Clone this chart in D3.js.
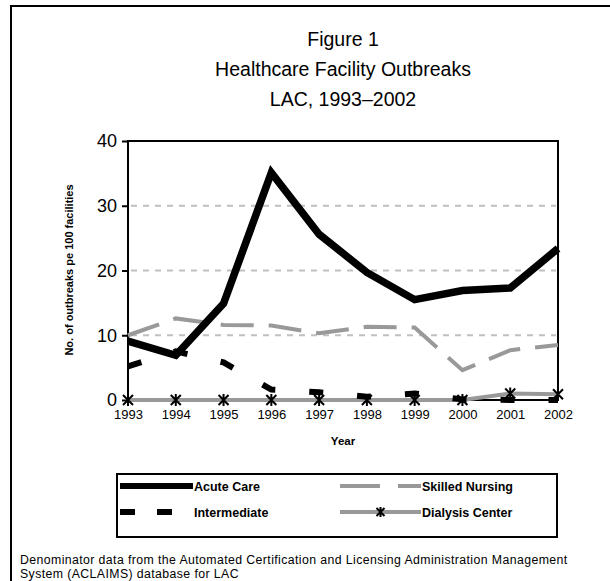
<!DOCTYPE html>
<html><head><meta charset="utf-8">
<script src="https://cdn.jsdelivr.net/npm/d3@7"></script>
<style>body{margin:0;background:#fff}svg{display:block;font-family:"Liberation Sans",Arial,sans-serif}</style>
</head><body>
<svg id="c" width="610" height="581"></svg>
<script>
const years = [1993,1994,1995,1996,1997,1998,1999,2000,2001,2002];
const acuteCare = [9.1,6.9,14.9,35.1,25.6,19.7,15.5,16.9,17.3,23.4];
const skilledNursing = [10.0,12.6,11.6,11.5,10.3,11.3,11.2,4.6,7.7,8.5];
const intermediate = [5.2,7.5,5.8,1.6,1.2,0.5,1.0,0.1,0,0];
const dialysis = [0,0,0,0,0,0,0,0,1.0,0.9];
const yTicks = [0,10,20,30,40];
const titleLines = ["Figure 1","Healthcare Facility Outbreaks","LAC, 1993\u20132002"];
const footnoteLines = ["Denominator data from the Automated Certification and Licensing Administration Management","System (ACLAIMS) database for LAC"];

const svg = d3.select("#c");
svg.append("rect").attr("x",11).attr("y",6).attr("width",640).attr("height",640)
  .attr("fill","none").attr("stroke","#000").attr("stroke-width",2);

titleLines.forEach((t,i)=>svg.append("text").attr("x",343).attr("y",46+i*30)
  .attr("text-anchor","middle").attr("font-size",19.5).text(t));

const x = d3.scalePoint().domain(years).range([128,558]);
const y = d3.scaleLinear().domain([0,40]).range([400,141]);

svg.append("g").selectAll("line").data(yTicks.filter(v=>v>0&&v<40)).join("line")
  .attr("x1",131).attr("x2",556).attr("y1",d=>y(d)).attr("y2",d=>y(d))
  .attr("stroke","#c0c0c0").attr("stroke-width",2).attr("stroke-dasharray","6,6");

svg.append("rect").attr("x",128).attr("y",141).attr("width",430).attr("height",259)
  .attr("fill","none").attr("stroke","#000").attr("stroke-width",2);

const ya = svg.append("g").attr("transform","translate(128,0)")
  .call(d3.axisLeft(y).tickValues(yTicks).tickSize(6).tickPadding(5));
ya.select(".domain").remove();
ya.selectAll("line").attr("stroke","#000").attr("stroke-width",2);
ya.selectAll("text").attr("font-size",18).attr("font-family","Liberation Sans, Arial").attr("fill","#000");

const xa = svg.append("g").attr("transform","translate(0,400)")
  .call(d3.axisBottom(x).tickSize(0).tickPadding(10).tickFormat(d3.format("d")));
xa.select(".domain").remove();
xa.selectAll("text").attr("font-size",13).attr("font-family","Liberation Sans, Arial").attr("fill","#000");

svg.append("text").attr("x",343).attr("y",445).attr("text-anchor","middle")
  .attr("font-size",11.5).attr("font-weight","bold").text("Year");
svg.append("text").attr("transform","translate(73,270) rotate(-90)").attr("text-anchor","middle")
  .attr("font-size",11).attr("font-weight","bold").text("No. of outbreaks pe 100 facilities");

const line = d3.line().x((d,i)=>x(years[i])).y(d=>y(d));

svg.append("path").datum(dialysis).attr("d",line).attr("fill","none")
  .attr("stroke","#999").attr("stroke-width",4);
svg.append("path").datum(skilledNursing).attr("d",line).attr("fill","none")
  .attr("stroke","#999").attr("stroke-width",4).attr("stroke-dasharray","33,15");
svg.append("path").datum(intermediate).attr("d",line).attr("fill","none")
  .attr("stroke","#000").attr("stroke-width",6).attr("stroke-dasharray","14,34");
svg.append("path").datum(acuteCare).attr("d",line).attr("fill","none")
  .attr("stroke","#000").attr("stroke-width",7.5).attr("stroke-linejoin","miter");

const star = (cx,cy,r)=>`M${cx-r},${cy-r}L${cx+r},${cy+r}M${cx-r},${cy+r}L${cx+r},${cy-r}M${cx},${cy-r-1}L${cx},${cy+r+1}`;
svg.append("g").selectAll("path").data(dialysis).join("path")
  .attr("d",(d,i)=>star(x(years[i]),y(d),5)).attr("stroke","#000").attr("stroke-width",2).attr("fill","none");

const lg = svg.append("g");
lg.append("rect").attr("x",117).attr("y",474).attr("width",440).attr("height",63)
  .attr("fill","none").attr("stroke","#000").attr("stroke-width",2);
const legendItems = [
  {name:"Acute Care",lx:120,tx:193,ly:486,stroke:"#000",w:6,dash:null},
  {name:"Skilled Nursing",lx:340,tx:421,ly:486,stroke:"#999",w:4,dash:"40,18"},
  {name:"Intermediate",lx:120,tx:193,ly:512,stroke:"#000",w:6,dash:"15,22"},
  {name:"Dialysis Center",lx:340,tx:421,ly:512,stroke:"#999",w:4,dash:null,marker:true}
];
legendItems.forEach(it=>{
  lg.append("path").attr("d",`M${it.lx},${it.ly}L${it.tx},${it.ly}`)
    .attr("stroke",it.stroke).attr("stroke-width",it.w).attr("fill","none")
    .attr("stroke-dasharray",it.dash ? it.dash : null);
  if(it.marker) lg.append("path").attr("d",star((it.lx+it.tx)/2,it.ly,4))
    .attr("stroke","#000").attr("stroke-width",2);
  lg.append("text").attr("x",it.tx+1).attr("y",it.ly+4.5).attr("font-size",12.5)
    .attr("font-weight","bold").text(it.name);
});

footnoteLines.forEach((t,i)=>svg.append("text").attr("x",20).attr("y",564+i*14)
  .attr("font-size",12.3).attr("letter-spacing",0.4).text(t));
</script>
</body></html>
